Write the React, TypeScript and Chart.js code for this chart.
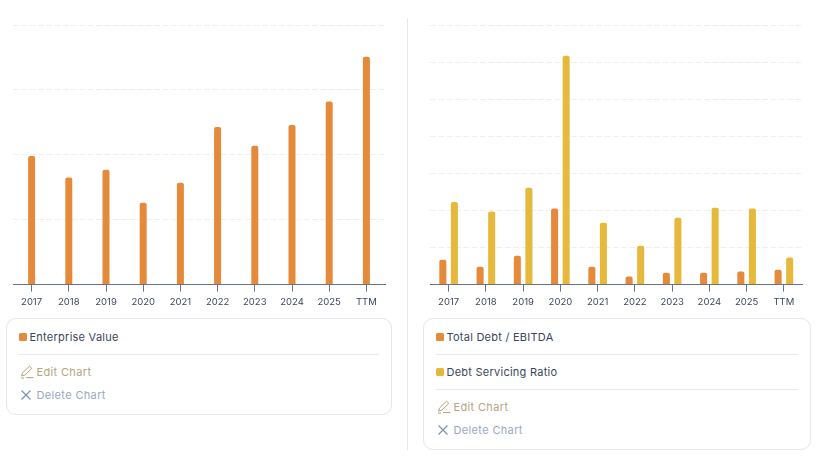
import { Chart, registerables } from 'chart.js';
import type { Plugin } from 'chart.js';
import { useEffect, useRef } from 'react';

Chart.register(...registerables);

const years = ['2017', '2018', '2019', '2020', '2021', '2022', '2023', '2024', '2025', 'TTM'];
const enterpriseValue = [198, 165, 177, 126, 157, 243, 214, 246, 282, 351];
const totalDebtEbitda = [0.67, 0.48, 0.78, 2.05, 0.48, 0.22, 0.32, 0.32, 0.35, 0.4];
const debtServicingRatio = [2.23, 1.97, 2.61, 6.17, 1.67, 1.05, 1.8, 2.07, 2.05, 0.73];

const ORANGE = '#e58a3a';
const YELLOW = '#e6b93c';
const AXIS = '#64748b';
const FONT = 'Inter, sans-serif';

type Series = { label: string; data: number[]; color: string };

type BarChartProps = {
  series: Series[];
  max: number;
  step: number;
  categoryPct: number;
  barPct: number;
  left: number;
  right: number;
};

// tick marks centred under each category
const centredTicks: Plugin<'bar'> = {
  id: 'centredTicks',
  afterDraw: (chart) => {
    const { ctx, scales } = chart;
    const x = scales.x;
    ctx.save();
    ctx.strokeStyle = AXIS;
    ctx.lineWidth = 1;
    x.ticks.forEach((_, i) => {
      const px = Math.floor(x.getPixelForTick(i)) + 0.5;
      ctx.beginPath();
      ctx.moveTo(px, x.top);
      ctx.lineTo(px, x.top + 7);
      ctx.stroke();
    });
    ctx.restore();
  },
};

const BarChart = ({ series, max, step, categoryPct, barPct, left, right }: BarChartProps) => {
  const canvasRef = useRef<HTMLCanvasElement>(null);

  useEffect(() => {
    const ctx = canvasRef.current?.getContext('2d');
    if (!ctx) return;
    const chart = new Chart(ctx, {
      type: 'bar',
      data: {
        labels: years,
        datasets: series.map((s) => ({
          label: s.label,
          data: s.data,
          backgroundColor: s.color,
          borderRadius: { topLeft: 2, topRight: 2 },
          borderSkipped: false as const,
          categoryPercentage: categoryPct,
          barPercentage: barPct,
        })),
      },
      options: {
        animation: false,
        responsive: false,
        layout: { padding: { top: 25, left, right, bottom: 0 } },
        plugins: { legend: { display: false }, tooltip: { enabled: false } },
        scales: {
          x: {
            border: { color: AXIS, width: 1 },
            grid: { display: false, tickLength: 7 },
            ticks: { color: '#3b475a', font: { family: FONT, size: 9.5 }, maxRotation: 0, autoSkip: false, padding: 5 },
          },
          y: {
            display: true,
            min: 0,
            max,
            border: { display: false, dash: [6, 2.3] },
            grid: { color: '#eeeff1', lineWidth: 1, drawTicks: false, tickLength: 0 },
            ticks: { display: false, stepSize: step },
            afterFit: (axis) => {
              axis.width = 0;
            },
          },
        },
      },
      plugins: [centredTicks],
    });
    return () => {
      chart.destroy();
    };
  }, []);

  return <canvas ref={canvasRef} width={410} height={313} style={{ display: 'block' }} />;
};

const Pencil = () => (
  <svg width="14" height="14" viewBox="0 0 14 14" fill="none" stroke="#b5a37a" strokeWidth="1" style={{ display: 'block' }}>
    <path d="M1.5 11 L2.5 8 L9.5 1.2 L11.8 3.4 L4.8 10.2 Z" />
    <path d="M6 12.6 H13.5" />
    <path d="M1 13 H4" />
  </svg>
);

const Cross = () => (
  <svg width="12" height="12" viewBox="0 0 12 12" fill="none" stroke="#7e8fb0" strokeWidth="1.2" style={{ display: 'block' }}>
    <path d="M1.5 1.5 L10.5 10.5 M10.5 1.5 L1.5 10.5" />
  </svg>
);

const LegendRow = ({ label, color, y }: { label: string; color: string; y: number }) => (
  <div style={{ position: 'absolute', left: 12, top: y, display: 'flex', alignItems: 'center', height: 16 }}>
    <span style={{ width: 8, height: 8, background: color, borderRadius: 1.5, marginRight: 2.5 }} />
    <span style={{ fontSize: 11, color: '#3a465a', letterSpacing: 0.25, whiteSpace: 'nowrap' }}>{label}</span>
  </div>
);

const Rule = ({ y }: { y: number }) => (
  <div style={{ position: 'absolute', left: 12, right: 12, top: y, height: 1, background: '#e8e9ec' }} />
);

const Action = ({ label, color, y, icon }: { label: string; color: string; y: number; icon: React.ReactNode }) => (
  <div style={{ position: 'absolute', left: 12.5, top: y, display: 'flex', alignItems: 'center', height: 16 }}>
    <span style={{ width: 17, display: 'flex', justifyContent: 'flex-start' }}>{icon}</span>
    <span style={{ fontSize: 11, color, letterSpacing: 0.35, whiteSpace: 'nowrap' }}>{label}</span>
  </div>
);

const Card = ({ left, width, height, items }: { left: number; width: number; height: number; items: Series[] }) => {
  const editY = 45 + (items.length - 1) * 35;
  return (
    <div
      style={{
        position: 'absolute',
        left,
        top: 318,
        width,
        height,
        boxSizing: 'border-box',
        border: '1px solid #e4e6ea',
        borderRadius: 10,
        background: '#fff',
      }}
    >
      {items.map((s, i) => (
        <div key={s.label}>
          <LegendRow label={s.label} color={s.color} y={10 + i * 35} />
          <Rule y={35 + i * 35} />
        </div>
      ))}
      <Action label="Edit Chart" color="#b5a57f" y={editY} icon={<Pencil />} />
      <Action label="Delete Chart" color="#9aa8c2" y={editY + 23} icon={<Cross />} />
    </div>
  );
};

const evSeries: Series[] = [{ label: 'Enterprise Value', data: enterpriseValue, color: ORANGE }];
const debtSeries: Series[] = [
  { label: 'Total Debt / EBITDA', data: totalDebtEbitda, color: ORANGE },
  { label: 'Debt Servicing Ratio', data: debtServicingRatio, color: YELLOW },
];

export default function App() {
  useEffect(() => {
    document.body.style.margin = '0';
  }, []);

  return (
    <div style={{ position: 'relative', width: 820, height: 463, background: '#fff', fontFamily: FONT, overflow: 'hidden' }}>
      <div style={{ position: 'absolute', left: 0, top: 0 }}>
        <BarChart series={evSeries} max={400} step={100} categoryPct={1} barPct={0.188} left={13} right={25} />
      </div>
      <div style={{ position: 'absolute', left: 410, top: 0 }}>
        <BarChart series={debtSeries} max={7} step={1} categoryPct={0.62} barPct={0.61} left={20} right={17.5} />
      </div>
      <div style={{ position: 'absolute', left: 407, top: 18, width: 1, height: 432, background: '#e8e9ec' }} />
      <Card left={6} width={386} height={97} items={evSeries} />
      <Card left={423} width={388} height={132} items={debtSeries} />
    </div>
  );
}
